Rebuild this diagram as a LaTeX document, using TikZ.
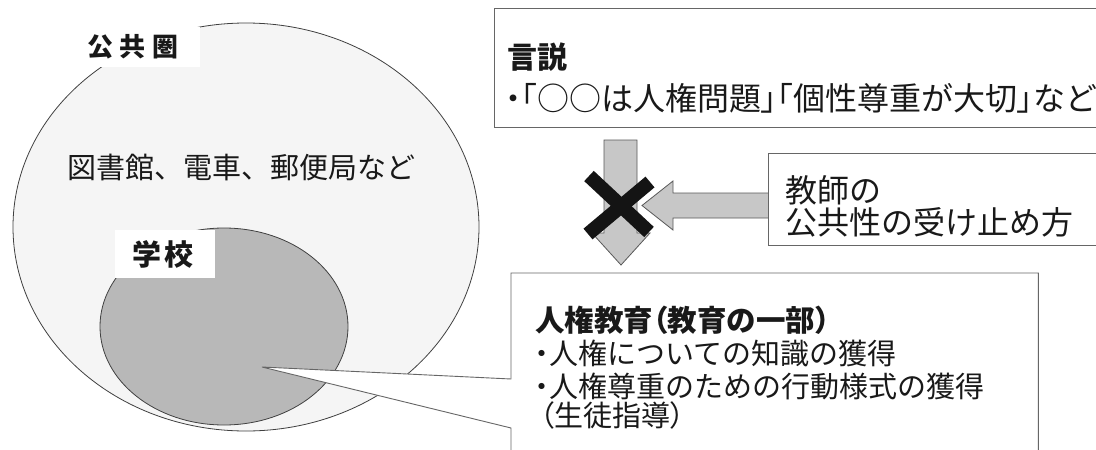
\documentclass[tikz,border=0pt]{standalone}
\usepackage{fontspec}
\setmainfont{Noto Sans CJK JP}
\usetikzlibrary{shapes.geometric}
\newcommand{\pn}[1]{{\addfontfeature{RawFeature=+palt}#1}}
\newcommand{\fs}[1]{\fontsize{#1pt}{#1pt}\selectfont}
\begin{document}
\begin{tikzpicture}[x=1pt,y=-1pt,
  boxst/.style={draw=black!60, line width=0.9pt, fill=white},
  arrowst/.style={draw=black!65, fill=black!22, line width=0.8pt, line join=miter},
  whitelabel/.style={fill=white, inner sep=0pt},
  txt/.style={inner sep=0pt, anchor=west, text=black!90},
  ]
\clip (0,0) rectangle (1096,450);
\fill[white] (0,0) rectangle (1096,450);

% public sphere and school
\node[ellipse, draw=black!75, line width=0.8pt, fill=black!4, minimum width=466pt, minimum height=408pt, inner sep=0pt] (public) at (246,227) {};
\node[ellipse, draw=black!75, line width=0.8pt, fill=black!28, minimum width=248pt, minimum height=197pt, inner sep=0pt] (school) at (224,326.5) {};

\node[whitelabel, minimum width=117pt, minimum height=40pt] (pubbox) at (141.5,47) {};
\node[inner sep=0pt, text=black!90] (publabel) at (133,47) {\fs{26}\bfseries 公\hspace{7pt}共\hspace{7pt}圏};
\node[txt] (places) at (67,167) {\fs{29}図書館、電車、郵便局など};

\node[whitelabel, minimum width=100pt, minimum height=48pt] (schbox) at (165,254) {};
\node[inner sep=0pt, text=black!90] (schlabel) at (163,254) {\fs{29}\bfseries 学\hspace{3pt}校};

% callout box (human rights education)
\coordinate (tip) at (262,367);
\node[anchor=north west, minimum width=527pt, minimum height=197pt, inner sep=0pt] (edu) at (511,273) {};
\draw[boxst] (edu.north west) -- (edu.north east) -- (edu.south east) -- (edu.south west)
  -- (511,428) -- (tip) -- (511,379) -- cycle;
\node[txt] (edut) at (535,320) {\fs{29.5}\bfseries 人権教育\pn{（}教育の一部\pn{）}};
\node[txt] (edu1) at (535,353) {\fs{29}\pn{・}人権についての知識の獲得};
\node[txt] (edu2) at (535,386) {\fs{29}\pn{・}人権尊重のための行動様式の獲得};
\node[txt] (edu3) at (540,415) {\fs{29}\pn{（}生徒指導\pn{）}};

% discourse box
\node[boxst, anchor=north west, minimum width=610pt, minimum height=119pt, inner sep=0pt] (disc) at (494,8) {};
\node[txt] (disct) at (507,57) {\fs{30}\bfseries 言説};
\node[txt] (discl) at (505,98) {\fs{32}\pn{・「}○○は人権問題\pn{」「}個性尊重が大切\pn{」}など};

% down arrow
\coordinate (dtop) at (620.5,140);
\coordinate (dtip) at (621,265);
\draw[arrowst] (604,140) -- (637,140) -- (637,233) -- (650,233) -- (dtip) -- (592,233) -- (604,233) -- cycle;

% left arrow
\coordinate (ltip) at (642,205.5);
\draw[arrowst] (772,193) -- (673,193) -- (673,181) -- (ltip) -- (673,230) -- (673,218) -- (772,218) -- cycle;

% cross
\coordinate (xa1) at (589,176); \coordinate (xa2) at (649,232);
\coordinate (xb1) at (588,234); \coordinate (xb2) at (650,182);
\draw[line width=14pt, black!92] (xa1) -- (xa2);
\draw[line width=14pt, black!92] (xb1) -- (xb2);

% teacher box
\node[boxst, anchor=north west, minimum width=340pt, minimum height=92pt, inner sep=0pt] (teach) at (768,153) {};
\node[txt] (teach1) at (785,190) {\fs{32}教師の};
\node[txt] (teach2) at (785,222) {\fs{32}公共性の受け止め方};
\end{tikzpicture}
\end{document}
